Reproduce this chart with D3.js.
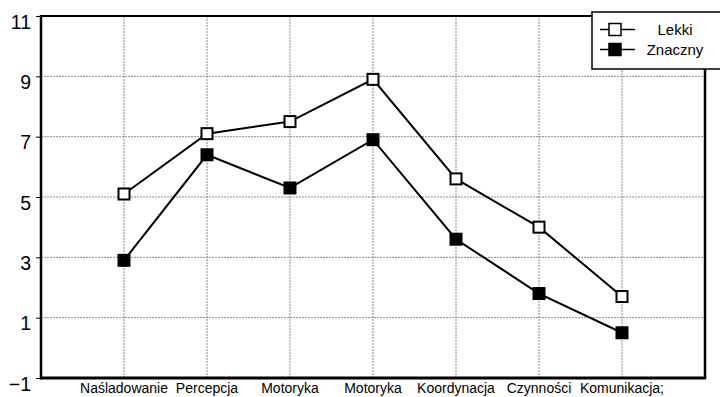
<!DOCTYPE html>
<html>
<head>
<meta charset="utf-8">
<script src="https://cdn.jsdelivr.net/npm/d3@7"></script>
<style>
  body { margin: 0; background: #fff; }
  svg { display: block; font-family: Arial, "Liberation Sans", sans-serif; }
</style>
</head>
<body>
<div id="graphic"></div>
<script>
// chart data
var categories = ["Naśladowanie", "Percepcja", "Motoryka", "Motoryka", "Koordynacja", "Czynności", "Komunikacja;"];
var lekki = [5.1, 7.1, 7.5, 8.9, 5.6, 4.0, 1.7];
var znaczny = [2.9, 6.4, 5.3, 6.9, 3.6, 1.8, 0.5];
var yTicks = [-1, 1, 3, 5, 7, 9, 11];

var seriesList = [
  { name: "Lekki", values: lekki, fill: "#fff" },
  { name: "Znaczny", values: znaczny, fill: "#000" }
];

var width = 720, height = 397;
var margin = { top: 16, right: 15, bottom: 19, left: 41 };
var plotW = width - margin.left - margin.right;
var plotH = height - margin.top - margin.bottom;

var svg = d3.select("#graphic")
  .append("svg")
  .attr("width", width)
  .attr("height", height);

var g = svg.append("g")
  .attr("transform", "translate(" + margin.left + "," + margin.top + ")");

// scales: categories sit on 1..n of a 0..n+1 linear scale
var x = d3.scaleLinear().domain([0, categories.length + 1]).range([0, plotW]);
var y = d3.scaleLinear().domain([-1, 11]).range([plotH, 0]);

// grid
g.append("g")
  .selectAll("line")
  .data(yTicks.slice(1, -1))
  .enter()
  .append("line")
  .attr("x1", 0).attr("x2", plotW)
  .attr("y1", d => y(d)).attr("y2", d => y(d))
  .attr("stroke", "#8a8a8a")
  .attr("stroke-width", 1)
  .attr("stroke-dasharray", "2,1");

g.append("g")
  .selectAll("line")
  .data(categories)
  .enter()
  .append("line")
  .attr("x1", (d, i) => x(i + 1)).attr("x2", (d, i) => x(i + 1))
  .attr("y1", 0).attr("y2", plotH)
  .attr("stroke", "#8a8a8a")
  .attr("stroke-width", 1)
  .attr("stroke-dasharray", "2,1");

// frame
g.append("line").attr("x1", 0).attr("x2", plotW).attr("y1", 0).attr("y2", 0)
  .attr("stroke", "#000").attr("stroke-width", 2);
g.append("line").attr("x1", plotW).attr("x2", plotW).attr("y1", 0).attr("y2", plotH)
  .attr("stroke", "#000").attr("stroke-width", 2.5);

// y axis
var yAxis = d3.axisLeft(y)
  .tickValues(yTicks)
  .tickSize(5)
  .tickPadding(5)
  .tickFormat(d => d < 0 ? "\u2212" + Math.abs(d) : d);

var yG = g.append("g").call(yAxis);
yG.select(".domain").remove();
yG.selectAll(".tick line").attr("stroke", "#000").attr("stroke-width", 1);
yG.selectAll(".tick text")
  .attr("font-size", 19.5)
  .attr("font-family", "Arial, 'Liberation Sans', sans-serif")
  .attr("fill", "#000")
  .attr("dy", "0.62em");

g.append("line").attr("x1", 0).attr("x2", 0).attr("y1", -1).attr("y2", plotH + 1.5)
  .attr("stroke", "#000").attr("stroke-width", 2.5);
g.append("line").attr("x1", 0).attr("x2", plotW + 1.2).attr("y1", plotH).attr("y2", plotH)
  .attr("stroke", "#000").attr("stroke-width", 3);

// category labels
g.append("g")
  .selectAll("text")
  .data(categories)
  .enter()
  .append("text")
  .attr("x", (d, i) => x(i + 1))
  .attr("y", plotH + 15)
  .attr("text-anchor", "middle")
  .attr("font-size", 14)
  .attr("fill", "#000")
  .text(d => d);

// lines and markers
var line = d3.line()
  .x((d, i) => x(i + 1))
  .y(d => y(d));

var markSize = 11;

seriesList.forEach(s => {
  g.append("path")
    .datum(s.values)
    .attr("fill", "none")
    .attr("stroke", "#000")
    .attr("stroke-width", 2)
    .attr("d", line);

  g.append("g")
    .selectAll("rect")
    .data(s.values)
    .enter()
    .append("rect")
    .attr("x", (d, i) => x(i + 1) - markSize / 2)
    .attr("y", d => y(d) - markSize / 2)
    .attr("width", markSize)
    .attr("height", markSize)
    .attr("fill", s.fill)
    .attr("stroke", "#000")
    .attr("stroke-width", 2);
});

// legend
var legend = svg.append("g").attr("transform", "translate(592,12)");
legend.append("rect")
  .attr("x", 0).attr("y", 0)
  .attr("width", 140).attr("height", 57)
  .attr("fill", "#fff")
  .attr("stroke", "#000")
  .attr("stroke-width", 1.5);

var lItem = legend.selectAll(".item")
  .data(seriesList)
  .enter()
  .append("g")
  .attr("class", "item")
  .attr("transform", (d, i) => "translate(0," + (17.5 + i * 20) + ")");

lItem.append("line")
  .attr("x1", 8).attr("x2", 43)
  .attr("y1", 0).attr("y2", 0)
  .attr("stroke", "#000").attr("stroke-width", 1.5);

lItem.append("rect")
  .attr("x", 17).attr("y", -6)
  .attr("width", 12).attr("height", 12)
  .attr("fill", d => d.fill)
  .attr("stroke", "#000")
  .attr("stroke-width", 1.5);

lItem.append("text")
  .attr("x", 83)
  .attr("y", 0)
  .attr("dy", "0.36em")
  .attr("text-anchor", "middle")
  .attr("font-size", 15)
  .attr("fill", "#000")
  .text(d => d.name);
</script>
</body>
</html>
